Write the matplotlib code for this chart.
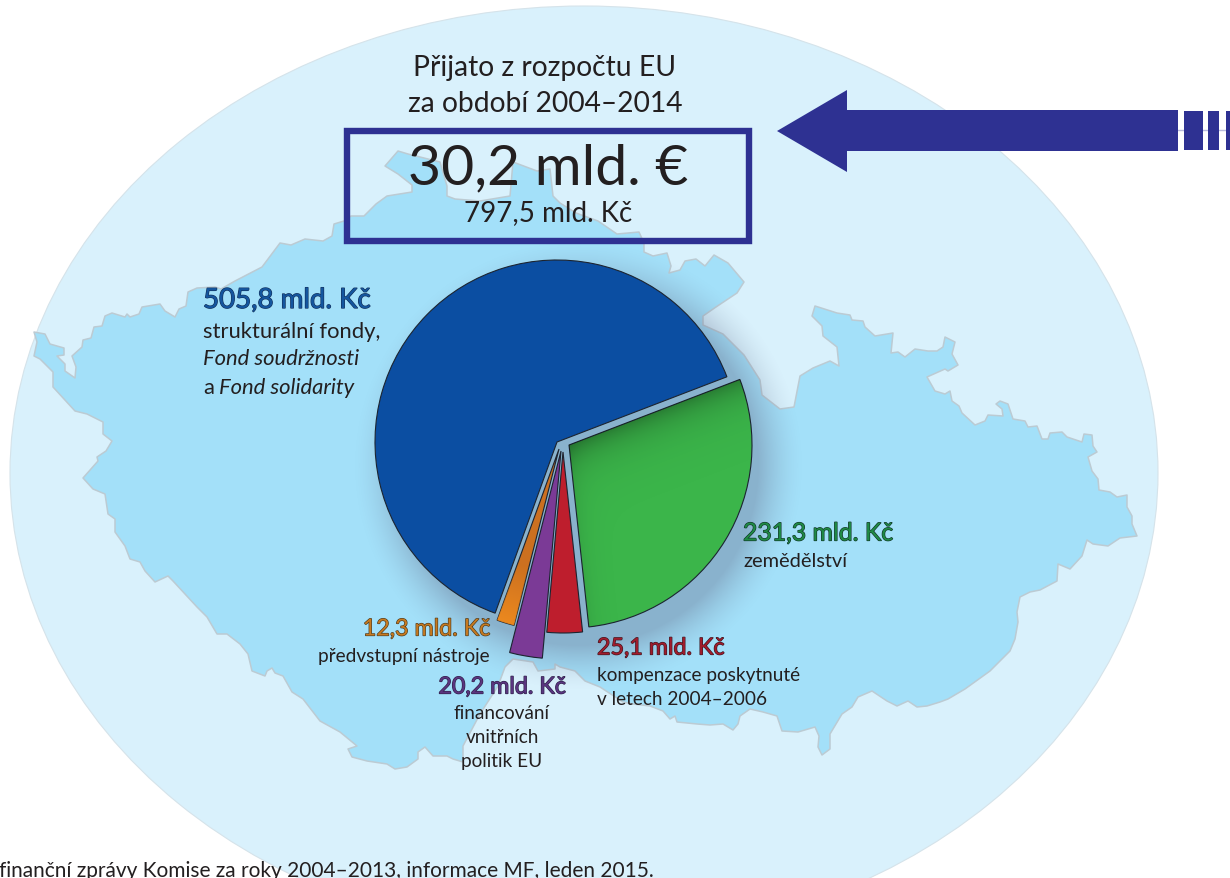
import numpy as np
import matplotlib

matplotlib.use("Agg")
import matplotlib.pyplot as plt
import matplotlib.patheffects as pe
from matplotlib.patches import Ellipse, Polygon, Rectangle

plt.rcParams["font.family"] = ["Lato", "DejaVu Sans"]

# order follows the pie clockwise from the green slice
values = [231.3, 25.1, 20.2, 12.3, 505.8]
wedge_colors = ["#3bb54a", "#be1e2d", "#7b3a96", "#cc7020", "#0b4ea2"]
label_colors = ["#1f8a45", "#a01c2c", "#5a3580", "#c67a20", "#14569f"]
label_edges = ["#12352a", "#3d1a24", "#2e2148", "#4a3a20", "#12315c"]
label_sizes = [24.8, 23.3, 23.3, 23.3, 27.7]

# apex and radius of each exploded slice, in picture pixels
wedge_centers = [(569, 446), (563, 453), (561, 452), (559, 450), (557, 443)]
wedge_radii = [183, 181, 208, 182, 182]

title_lines = ["Přijato z rozpočtu EU", "za období 2004–2014"]
total_eur = "30,2 mld. €"
total_czk = "797,5 mld. Kč"
source_text = "finanční zprávy Komise za roky 2004–2013, informace MF, leden 2015."

# outline of the country, backdrop only
map_x = [34, 45, 50, 64, 64, 57, 65, 65, 75, 76, 72, 82, 83, 91, 94, 102, 105, 112, 125, 127, 130, 139,
         142, 160, 165, 175, 179, 186, 188, 197, 215, 221, 235, 262, 280, 291, 305, 323, 332, 334, 344,
         351, 364, 376, 387, 412, 412, 398, 385, 398, 408, 440, 447, 447, 455, 480, 510, 513, 537, 550,
         553, 560, 576, 598, 617, 639, 644, 644, 653, 667, 671, 669, 680, 685, 696, 705, 714, 728, 744,
         737, 716, 703, 703, 723, 744, 760, 762, 780, 794, 800, 813, 830, 839, 837, 823, 822, 812, 815,
         837, 850, 852, 863, 865, 875, 893, 891, 898, 905, 915, 928, 937, 943, 945, 955, 952, 958, 948,
         945, 927, 935, 945, 950, 952, 959, 962, 975, 985, 988, 1003, 1002, 996, 1000, 1008, 1013, 1025,
         1028, 1037, 1042, 1048, 1050, 1062, 1067, 1082, 1084, 1092, 1093, 1097, 1088, 1092, 1098, 1099,
         1110, 1117, 1127, 1127, 1132, 1132, 1137, 1120, 1108, 1093, 1087, 1082, 1070, 1058, 1057, 1040,
         1030, 1020, 1017, 1018, 1015, 1010, 990, 965, 948, 940, 927, 917, 908, 897, 887, 872, 858, 852,
         842, 830, 830, 822, 818, 819, 815, 798, 782, 777, 763, 750, 740, 738, 733, 723, 710, 697, 677,
         675, 670, 663, 650, 633, 623, 600, 585, 575, 560, 555, 555, 538, 533, 513, 505, 498, 480, 463,
         463, 453, 447, 433, 425, 418, 418, 407, 395, 387, 367, 352, 348, 357, 340, 320, 303, 292, 283,
         275, 272, 267, 265, 252, 248, 240, 227, 217, 207, 197, 173, 168, 155, 145, 140, 130, 125, 115,
         115, 108, 105, 93, 83, 98, 97, 106, 112, 103, 103, 87, 75, 53, 53, 40, 34, 37]
map_y = [333, 335, 345, 349, 356, 357, 365, 372, 379, 368, 357, 348, 341, 339, 328, 327, 317, 314, 318,
         315, 318, 315, 308, 305, 312, 318, 310, 307, 293, 289, 288, 290, 282, 268, 244, 246, 240, 242,
         237, 225, 222, 217, 217, 205, 197, 193, 186, 175, 167, 152, 155, 163, 187, 197, 200, 202, 197,
         163, 172, 170, 197, 204, 214, 222, 235, 233, 244, 253, 257, 254, 267, 274, 271, 262, 260, 267,
         256, 264, 283, 294, 308, 317, 326, 335, 356, 381, 396, 410, 408, 377, 369, 362, 367, 348, 337,
         327, 317, 307, 314, 316, 321, 322, 328, 337, 334, 354, 353, 358, 350, 352, 352, 348, 338, 343,
         355, 366, 372, 370, 378, 392, 395, 392, 402, 407, 414, 426, 422, 416, 417, 410, 405, 402, 405,
         420, 422, 428, 427, 440, 440, 434, 433, 438, 443, 435, 436, 447, 453, 458, 472, 480, 491, 493,
         498, 496, 508, 517, 525, 537, 539, 547, 545, 541, 557, 570, 565, 582, 591, 593, 598, 613, 623,
         640, 652, 672, 690, 700, 703, 707, 708, 702, 707, 702, 692, 698, 708, 715, 735, 750, 756, 748,
         737, 728, 733, 732, 717, 713, 710, 717, 725, 731, 725, 726, 725, 723, 717, 720, 712, 707, 705,
         703, 688, 682, 672, 668, 665, 670, 672, 663, 660, 668, 687, 715, 747, 763, 760, 757, 757, 748,
         753, 760, 768, 770, 765, 762, 758, 750, 747, 733, 722, 700, 693, 677, 674, 669, 672, 677, 672,
         655, 645, 635, 635, 618, 608, 582, 577, 583, 572, 563, 560, 547, 533, 520, 515, 495, 490, 479,
         462, 458, 452, 442, 435, 423, 415, 412, 388, 373, 360, 357, 343]

NAVY = "#2e3192"
TEXT = "#231f20"
W, H = 1230, 879


def px(size):
    # font size given in picture pixels
    return size * 72 / 100


def mld(value):
    return f"{value:.1f}".replace(".", ",") + " mld. Kč"


def value_label(ax, x, y, i, ha="left"):
    t = ax.text(x, y, mld(values[i]), ha=ha, va="center", fontsize=px(label_sizes[i]),
                color=label_colors[i], zorder=8)
    t.set_path_effects([pe.withStroke(linewidth=0.9, foreground=label_edges[i])])


def note(ax, x, y, s, ha="left", style="normal", size=19):
    ax.text(x, y, s, ha=ha, va="center", fontsize=px(size), color=TEXT, style=style, zorder=8)


fig = plt.figure(figsize=(12.3, 8.79), dpi=100)
ax = fig.add_axes([0, 0, 1, 1])

ax.add_patch(Ellipse((584, 474), 1148, 934, fc="#d9f1fc", ec="#d5e3ea", lw=0.8, zorder=1))
ax.add_patch(Polygon(np.column_stack([map_x, map_y]), closed=True, fc="#a3e0f9", ec="#bccbd3",
                     lw=1.1, joinstyle="round", zorder=2))

# soft shadow round the pie, pushed towards the lower right
yy, xx = np.mgrid[0:H, 0:W]
dist = np.hypot(xx - 578, yy - 466)
shadow = np.zeros((H, W, 4))
shadow[..., :3] = np.array([100, 110, 140]) / 255
shadow[..., 3] = 0.40 * np.clip((226 - dist) / 46, 0, 1) ** 1.6
ax.imshow(shadow, extent=(0, W, H, 0), zorder=3, interpolation="bilinear")

wedges, _ = ax.pie(values, colors=wedge_colors, startangle=-21, counterclock=True, radius=182,
                   center=(562, 447), wedgeprops={"edgecolor": "#1c2430", "linewidth": 0.8, "zorder": 4})
for w, c, r in zip(wedges, wedge_centers, wedge_radii):
    w.set_center(c)
    w.set_radius(r)
    w.set_zorder(4)

# inner shading of the green slice, along its upper and left edge
gx, gy = wedge_centers[0]
d_top = np.abs((xx - gx) * np.sin(np.deg2rad(21)) + (yy - gy) * np.cos(np.deg2rad(21)))
d_left = np.abs((xx - gx) * np.sin(np.deg2rad(84)) - (yy - gy) * np.cos(np.deg2rad(84)))
shade = np.zeros((H, W, 4))
shade[..., 3] = 0.30 * np.exp(-d_top / 18) + 0.08 * np.exp(-d_left / 10)
im = ax.imshow(shade, extent=(0, W, H, 0), zorder=4.5, interpolation="bilinear")
im.set_clip_path(wedges[0])

# orange slice gets lighter towards its tip
ox, oy = wedge_centers[3]
glow = np.zeros((H, W, 4))
glow[..., :3] = np.array([240, 140, 30]) / 255
glow[..., 3] = np.clip((np.hypot(xx - ox, yy - oy) - 120) / 70, 0, 0.85)
im = ax.imshow(glow, extent=(0, W, H, 0), zorder=4.5, interpolation="bilinear")
im.set_clip_path(wedges[3])

for y, line in zip([68, 104], title_lines):
    ax.text(545, y, line, ha="center", va="center", fontsize=px(28.2), color=TEXT, zorder=8)
ax.add_patch(Rectangle((347, 132), 402, 110, fc="none", ec=NAVY, lw=4.6, joinstyle="miter", zorder=7))
ax.text(548, 169, total_eur, ha="center", va="center", fontsize=px(57), color=TEXT, zorder=8)
ax.text(548, 213, total_czk, ha="center", va="center", fontsize=px(27.8), color=TEXT, zorder=8)

# arrow coming in from the right
ax.plot([1177, W], [131, 131], color="#b9bbdc", lw=1, zorder=5)
ax.add_patch(Polygon([(777, 132), (847, 91), (847, 111), (1178, 111), (1178, 152), (847, 152), (847, 173)],
                     closed=True, fc=NAVY, ec="none", zorder=6))
for x0, x1 in [(1184, 1203), (1208, 1219), (1226, 1232)]:
    ax.add_patch(Rectangle((x0, 112), x1 - x0, 39, fc=NAVY, ec="none", zorder=6))

value_label(ax, 203, 301, 4)
note(ax, 203, 332, "strukturální fondy,", size=22)
note(ax, 203, 359, "Fond soudržnosti", style="italic", size=22)
note(ax, 203, 388, "a", size=22)
note(ax, 219, 388, "Fond solidarity", style="italic", size=22)

value_label(ax, 743, 534, 0)
note(ax, 743, 562, "zemědělství", size=20)

value_label(ax, 597, 649, 1)
note(ax, 597, 676, "kompenzace poskytnuté")
note(ax, 597, 700, "v letech 2004–2006")

value_label(ax, 566, 688, 2, ha="right")
note(ax, 502, 714, "financování", ha="center")
note(ax, 502, 738, "vnitřních", ha="center")
note(ax, 502, 762, "politik EU", ha="center")

value_label(ax, 490, 630, 3, ha="right")
note(ax, 490, 657, "předvstupní nástroje", ha="right")

ax.text(-1, 871, source_text, ha="left", va="center", fontsize=px(20.9), color=TEXT, zorder=8)

ax.set_xlim(0, W)
ax.set_ylim(H, 0)
ax.set_aspect("auto")
ax.axis("off")

fig.savefig("out.png", dpi=100)
